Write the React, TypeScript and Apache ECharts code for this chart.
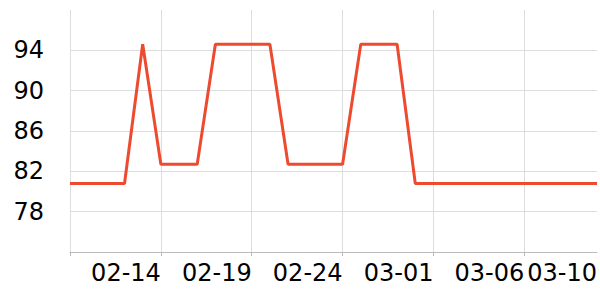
import React, { useEffect, useRef } from "react";
import * as echarts from "echarts";

const categories = [
  "02-09", "02-10", "02-11", "02-12", "02-13", "02-14", "02-15", "02-16", "02-17", "02-18",
  "02-19", "02-20", "02-21", "02-22", "02-23", "02-24", "02-25", "02-26", "02-27", "02-28",
  "03-01", "03-02", "03-03", "03-04", "03-05", "03-06", "03-07", "03-08", "03-09", "03-10",
];

const values = [
  80.8, 80.8, 80.8, 80.8, 94.6, 82.7, 82.7, 82.7, 94.6, 94.6,
  94.6, 94.6, 82.7, 82.7, 82.7, 82.7, 94.6, 94.6, 94.6, 80.8,
  80.8, 80.8, 80.8, 80.8, 80.8, 80.8, 80.8, 80.8, 80.8, 80.8,
];

const labelIdx = [5, 10, 15, 20, 25, 29];
const lineIdx = [0, 5, 10, 15, 20, 25];

export default function App() {
  const ref = useRef<HTMLDivElement>(null);
  useEffect(() => {
    document.body.style.margin = "0";
    if (!ref.current) return;
    const chart = echarts.init(ref.current, undefined, { renderer: "svg" });
    chart.setOption({
      animation: false,
      grid: { left: 70, right: 0, top: 10, bottom: 48 },
      xAxis: {
        type: "category",
        data: categories,
        boundaryGap: false,
        axisLine: { show: true, lineStyle: { color: "#bbbbbb", width: 1 } },
        axisTick: {
          show: true,
          length: 4,
          interval: (i: number) => lineIdx.includes(i),
          lineStyle: { color: "#bbbbbb" },
        },
        axisLabel: {
          interval: (i: number) => labelIdx.includes(i),
          align: "right",
          margin: 9,
          fontSize: 24,
          color: "#000",
          fontFamily: "DejaVu Sans",
        },
        splitLine: {
          show: true,
          interval: (i: number) => lineIdx.includes(i),
          lineStyle: { color: "#dddddd", width: 1 },
        },
      },
      yAxis: {
        type: "value",
        min: 74,
        max: 98,
        interval: 4,
        axisLine: { show: false },
        axisTick: { show: false },
        axisLabel: {
          showMinLabel: false,
          showMaxLabel: false,
          margin: 26,
          fontSize: 24,
          color: "#000",
          fontFamily: "DejaVu Sans",
        },
        splitLine: {
          show: true,
          showMinLine: false,
          showMaxLine: false,
          lineStyle: { color: "#dddddd", width: 1 },
        },
      },
      series: [
        {
          type: "line",
          data: values,
          symbol: "none",
          lineStyle: { color: "#ee4a2f", width: 3 },
          itemStyle: { color: "#ee4a2f" },
        },
      ],
    });
    return () => chart.dispose();
  }, []);
  return <div ref={ref} style={{ width: 600, height: 300 }} />;
}
